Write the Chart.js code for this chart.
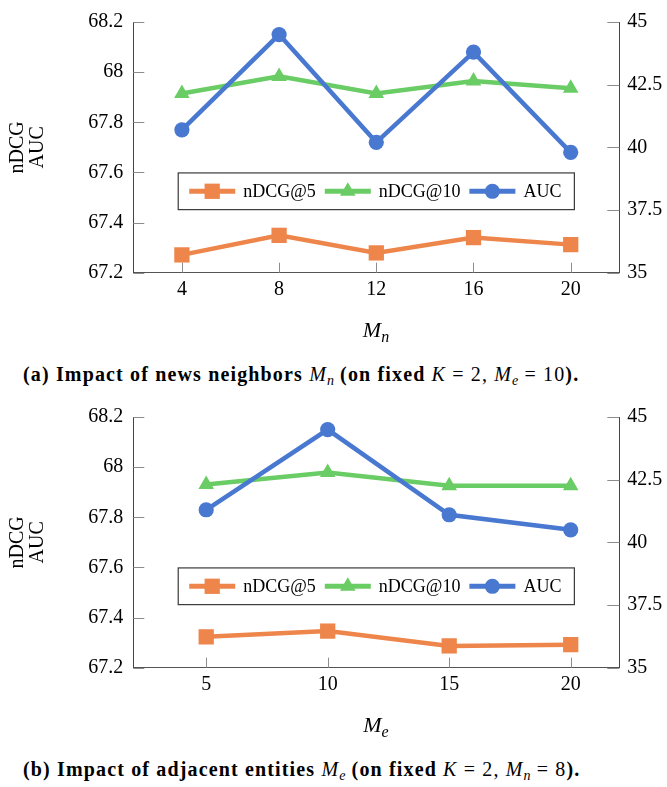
<!DOCTYPE html>
<html>
<head>
<meta charset="utf-8">
<script src="https://cdn.jsdelivr.net/npm/chart.js@4.4.1/dist/chart.umd.min.js"></script>
<style>
html,body{margin:0;padding:0;background:#fff;}
body{width:667px;height:787px;position:relative;overflow:hidden;font-family:"Liberation Serif","Times New Roman",serif;color:#000;}
.panel{position:absolute;left:0;width:667px;height:394px;}
.panel canvas{position:absolute;left:0;top:0;}
.xt{position:absolute;left:276px;width:200px;top:319px;text-align:center;font-size:22px;line-height:22px;font-style:italic;white-space:nowrap;}
.xt sub{font-size:16px;line-height:0;vertical-align:-5px;}
.cap{position:absolute;left:23px;top:364px;font-size:20px;line-height:20px;letter-spacing:1.15px;white-space:nowrap;}
.cap sub{font-size:14px;line-height:0;vertical-align:-4px;letter-spacing:0;}
</style>
</head>
<body>
<div class="panel" style="top:0px">
  <canvas id="ca" width="667" height="350"></canvas>
  <div class="xt">M<sub>n</sub></div>
  <div class="cap"><b>(a) Impact of news neighbors </b><i>M<sub>n</sub></i><b> (on fixed </b><i>K</i> = 2, <i>M<sub>e</sub></i> = 10<b>).</b></div>
</div>
<div class="panel" style="top:394.6px">
  <canvas id="cb" width="667" height="350"></canvas>
  <div class="xt">M<sub>e</sub></div>
  <div class="cap"><b>(b) Impact of adjacent entities </b><i>M<sub>e</sub></i><b> (on fixed </b><i>K</i> = 2, <i>M<sub>n</sub></i> = 8<b>).</b></div>
</div>
<script>
// ---- data: panel (a) ----
const xA = [4, 8, 12, 16, 20];
const aucA = [67.77, 68.15, 67.72, 68.08, 67.68];
const ndcg10A = [42.15, 42.83, 42.15, 42.65, 42.36];
const ndcg5A = [35.71, 36.49, 35.79, 36.40, 36.12];
// ---- data: panel (b) ----
const xB = [5, 10, 15, 20];
const aucB = [67.83, 68.15, 67.81, 67.75];
const ndcg10B = [42.31, 42.79, 42.26, 42.26];
const ndcg5B = [36.23, 36.46, 35.87, 35.92];
// ---- ticks ----
const leftTicks = [67.2, 67.4, 67.6, 67.8, 68, 68.2];
const leftTickLabels = ['67.2', '67.4', '67.6', '67.8', '68', '68.2'];
const rightTicks = [35, 37.5, 40, 42.5, 45];
const rightTickLabels = ['35', '37.5', '40', '42.5', '45'];
const seriesNames = ['nDCG@5', 'nDCG@10', 'AUC'];
const yTitle = ['nDCG', 'AUC'];

const FONT = '"Liberation Serif", "Times New Roman", serif';
const COL = {o: '#EE854A', g: '#6ACC64', b: '#4878D0'};
const LW = 4.5;

function drawMarker(ctx, style, r, x, y, color) {
  ctx.fillStyle = color;
  ctx.beginPath();
  if (style === 'rect') {
    const s = Math.SQRT1_2 * r;
    ctx.rect(x - s, y - s, 2 * s, 2 * s);
  } else if (style === 'triangle') {
    let a = 0;
    ctx.moveTo(x + Math.sin(a) * r, y - Math.cos(a) * r);
    a += 2 * Math.PI / 3;
    ctx.lineTo(x + Math.sin(a) * r, y - Math.cos(a) * r);
    a += 2 * Math.PI / 3;
    ctx.lineTo(x + Math.sin(a) * r, y - Math.cos(a) * r);
    ctx.closePath();
  } else {
    ctx.arc(x, y, r, 0, Math.PI * 2);
  }
  ctx.fill();
}

const inTicks = {
  id: 'inTicks',
  beforeDatasetsDraw(chart) {
    const {ctx, chartArea: a, scales} = chart;
    ctx.save();
    ctx.strokeStyle = '#8c8c8c';
    ctx.lineWidth = 1;
    ctx.beginPath();
    scales.x.ticks.forEach(t => {
      const px = Math.round(scales.x.getPixelForValue(t.value)) + 0.5;
      ctx.moveTo(px, a.bottom); ctx.lineTo(px, a.bottom - 10);
    });
    scales.y.ticks.forEach(t => {
      const py = Math.round(scales.y.getPixelForValue(t.value)) + 0.5;
      ctx.moveTo(a.left, py); ctx.lineTo(a.left + 11, py);
    });
    scales.y2.ticks.forEach(t => {
      const py = Math.round(scales.y2.getPixelForValue(t.value)) + 0.5;
      ctx.moveTo(a.right, py); ctx.lineTo(a.right - 12, py);
    });
    ctx.stroke();
    ctx.restore();
  }
};

const boxLegend = {
  id: 'boxLegend',
  afterDatasetsDraw(chart) {
    const {ctx, chartArea: a} = chart;
    ctx.save();
    ctx.font = '18px ' + FONT;
    const items = seriesNames.map(n => chart.data.datasets.find(d => d.label === n));
    const lineLen = 46, gapT = 8, gapI = 9, padL = 11, padR = 13, h = 36.7;
    let w = padL + padR;
    items.forEach((d, i) => { w += lineLen + gapT + ctx.measureText(d.label).width + (i < items.length - 1 ? gapI : 0); });
    const cx = (a.left + a.right) / 2;
    const x0 = cx - w / 2;
    const y0 = a.top + 0.602 * (a.bottom - a.top);
    ctx.fillStyle = '#fff';
    ctx.fillRect(x0, y0, w, h);
    ctx.strokeStyle = '#3a3a3a';
    ctx.lineWidth = 1.2;
    ctx.strokeRect(x0, y0, w, h);
    const cy = y0 + h / 2;
    let x = x0 + padL;
    items.forEach(d => {
      ctx.strokeStyle = d.borderColor;
      ctx.lineWidth = LW + 0.5;
      ctx.beginPath(); ctx.moveTo(x, cy); ctx.lineTo(x + lineLen, cy); ctx.stroke();
      drawMarker(ctx, d.pointStyle, d.pointRadius, x + lineLen / 2, cy, d.borderColor);
      x += lineLen + gapT;
      ctx.fillStyle = '#000';
      ctx.textBaseline = 'alphabetic';
      ctx.textAlign = 'left';
      ctx.fillText(d.label, x, cy + 6);
      x += ctx.measureText(d.label).width + gapI;
    });
    ctx.restore();
  }
};

function makeChart(id, xs, auc, n10, n5) {
  const pts = (ys) => xs.map((x, i) => ({x: x, y: ys[i]}));
  const ds = (label, data, color, axis, style, r, order) => ({
    label, data, yAxisID: axis, borderColor: color, backgroundColor: color,
    borderWidth: LW, tension: 0, pointStyle: style, pointRadius: r, pointHoverRadius: r,
    pointBackgroundColor: color, pointBorderColor: color, pointBorderWidth: 0, order, clip: false
  });
  return new Chart(document.getElementById(id), {
    type: 'line',
    data: {
      datasets: [
        ds(seriesNames[0], pts(n5), COL.o, 'y2', 'rect', 10.8, 3),
        ds(seriesNames[1], pts(n10), COL.g, 'y2', 'triangle', 9, 2),
        ds(seriesNames[2], pts(auc), COL.b, 'y', 'circle', 7.6, 1)
      ]
    },
    options: {
      responsive: false,
      animation: false,
      devicePixelRatio: 1,
      layout: {padding: {top: 14.7, left: 0, right: 0, bottom: 0}},
      plugins: {legend: {display: false}, tooltip: {enabled: false}, title: {display: false}},
      scales: {
        x: {
          type: 'linear', min: 2, max: 22,
          afterBuildTicks: s => { s.ticks = xs.map(v => ({value: v})); },
          afterFit: s => { s.height = 350 - 272.7; },
          grid: {display: true, drawOnChartArea: false, drawTicks: false},
          border: {display: true, color: '#555', width: 1},
          ticks: {padding: 5, color: '#000', font: {family: FONT, size: 20}, maxRotation: 0, callback: v => String(v)}
        },
        y: {
          position: 'left', min: 67.2, max: 68.2,
          afterBuildTicks: s => { s.ticks = leftTicks.map(v => ({value: v})); },
          afterFit: s => { s.width = 133.3; },
          grid: {display: true, drawOnChartArea: false, drawTicks: false},
          border: {display: true, color: '#444', width: 1},
          ticks: {padding: 10, color: '#000', font: {family: FONT, size: 20}, callback: (v, i) => leftTickLabels[i]},
          title: {display: true, text: yTitle, color: '#000', font: {family: FONT, size: 20, lineHeight: 1.0}, padding: {top: 7.5, bottom: 0}}
        },
        y2: {
          position: 'right', min: 35, max: 45,
          afterBuildTicks: s => { s.ticks = rightTicks.map(v => ({value: v})); },
          afterFit: s => { s.width = 667 - 619.3; },
          grid: {display: true, drawOnChartArea: false, drawTicks: false},
          border: {display: true, color: '#444', width: 1},
          ticks: {padding: 8, color: '#000', font: {family: FONT, size: 20}, callback: (v, i) => rightTickLabels[i]}
        }
      }
    },
    plugins: [inTicks, boxLegend]
  });
}

makeChart('ca', xA, aucA, ndcg10A, ndcg5A);
makeChart('cb', xB, aucB, ndcg10B, ndcg5B);
</script>
</body>
</html>
